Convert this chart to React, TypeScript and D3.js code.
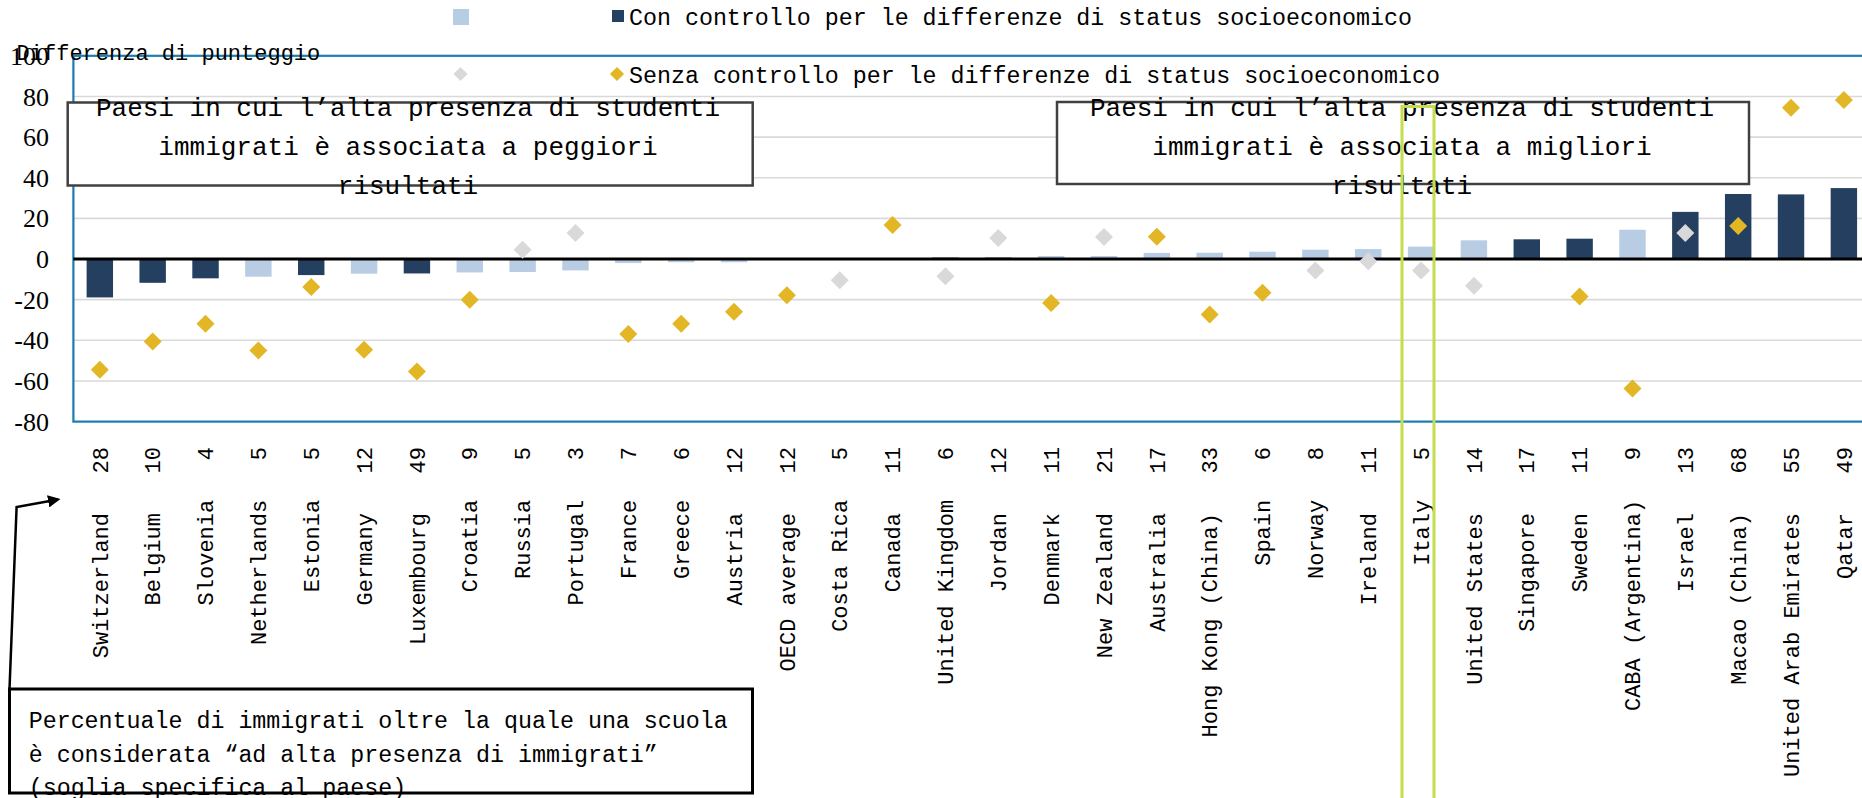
import React from "react";
import * as d3 from "d3";

const countries = [
  "Switzerland", "Belgium", "Slovenia", "Netherlands", "Estonia", "Germany", "Luxembourg",
  "Croatia", "Russia", "Portugal", "France", "Greece", "Austria", "OECD average", "Costa Rica",
  "Canada", "United Kingdom", "Jordan", "Denmark", "New Zealand", "Australia", "Hong Kong (China)",
  "Spain", "Norway", "Ireland", "Italy", "United States", "Singapore", "Sweden", "CABA (Argentina)",
  "Israel", "Macao (China)", "United Arab Emirates", "Qatar",
];
const thresholds = [28, 10, 4, 5, 5, 12, 49, 9, 5, 3, 7, 6, 12, 12, 5, 11, 6, 12, 11, 21, 17, 33, 6, 8, 11, 5, 14, 17, 11, 9, 13, 68, 55, 49];
// Con controllo per le differenze di status socioeconomico (barre)
const withControl = [-18.9, -11.7, -9.5, -8.7, -7.9, -7.2, -7.1, -6.6, -6.4, -5.6, -2.0, -1.6, -1.6, 0, 0, 0, 0.7, 0.7, 1.5, 1.5, 3.0, 3.1, 3.6, 4.6, 4.9, 6.1, 9.2, 9.7, 10.0, 14.4, 23.2, 32.0, 31.8, 34.9];
const withControlSignificant = [1, 1, 1, 0, 1, 0, 1, 0, 0, 0, 0, 0, 0, 0, 0, 0, 1, 1, 0, 0, 0, 0, 0, 0, 0, 0, 0, 1, 1, 0, 1, 1, 1, 1];
// Senza controllo per le differenze di status socioeconomico (rombi)
const withoutControl: (number | null)[] = [-54.5, -40.6, -31.9, -45.0, -13.8, -44.7, -55.3, -20.0, 4.6, 12.8, -36.9, -31.9, -25.9, -17.8, -10.5, 16.8, -8.5, 10.4, -21.7, 10.8, 11.0, -27.3, -16.6, -5.6, -1.1, -5.6, -13.1, null, -18.4, -63.7, 12.8, 16.3, 74.4, 78.2];
const withoutControlSignificant = [1, 1, 1, 1, 1, 1, 1, 1, 0, 0, 1, 1, 1, 1, 0, 1, 0, 0, 1, 0, 1, 1, 1, 0, 0, 0, 0, 0, 1, 1, 0, 1, 1, 1];
const yTicks = [100, 80, 60, 40, 20, 0, -20, -40, -60, -80];

const legendWith = "Con controllo per le differenze di status socioeconomico";
const legendWithout = "Senza controllo per le differenze di status socioeconomico";
const yTitle = "Differenza di punteggio";
const leftBoxLines = ["Paesi in cui l’alta presenza di studenti", "immigrati è associata a peggiori", "risultati"];
const rightBoxLines = ["Paesi in cui l’alta presenza di studenti", "immigrati è associata a migliori", "risultati"];
const noteLines = [
  "Percentuale di immigrati oltre la quale una scuola",
  "è considerata “ad alta presenza di immigrati”",
  "(soglia specifica al paese)",
];

const DARK = "#243f5f";
const LIGHT = "#b8cce4";
const GOLD = "#e2b624";
const GREY = "#d9d9d9";
const MONO = "'Liberation Mono', 'DejaVu Sans Mono', monospace";
const SERIF = "'Liberation Serif', 'DejaVu Serif', serif";

export default function App() {
  const W = 1862;
  const H = 798;
  const left = 73.4;
  const step = 52.85;
  const top = 55.8;
  const bottom = 421.6;

  const x = d3
    .scaleBand<string>()
    .domain(countries)
    .range([left, left + step * countries.length])
    .paddingInner(0.5)
    .paddingOuter(0.25);
  const y = d3.scaleLinear().domain([-80, 100]).range([bottom, top]);
  const diamond = d3.symbol(d3.symbolSquare, 162)() as string;
  const diamondSmall = d3.symbol(d3.symbolSquare, 100)() as string;
  const charW = 22 * 0.6;

  return (
    <svg
      width={W}
      height={H}
      style={{ position: "absolute", left: 0, top: 0, background: "#fff" }}
    >
      <rect x={0} y={0} width={W} height={H} fill="#fff" />
      {/* gridlines */}
      {yTicks
        .filter((t) => t !== 0 && t !== 100 && t !== -80)
        .map((t) => (
          <line key={t} x1={left} x2={W} y1={y(t)} y2={y(t)} stroke={GREY} strokeWidth={1.6} />
        ))}
      {/* plot border */}
      <rect x={left} y={top} width={W - left + 20} height={bottom - top} fill="none" stroke="#1b7db0" strokeWidth={2.2} />

      {/* annotation boxes (behind the marks) */}
      <rect x={67.7} y={102.5} width={685} height={83} fill="#fff" stroke="#404040" strokeWidth={2.5} />
      {leftBoxLines.map((l, k) => (
        <text key={k} x={408} y={107 + k * 39} dy="0.35em" textAnchor="middle" fontFamily={MONO} fontSize={26} fill="#000">
          {l}
        </text>
      ))}
      <rect x={1057} y={102} width={692} height={82} fill="#fff" stroke="#404040" strokeWidth={2.5} />
      {rightBoxLines.map((l, k) => (
        <text key={k} x={1402} y={107 + k * 39} dy="0.35em" textAnchor="middle" fontFamily={MONO} fontSize={26} fill="#000">
          {l}
        </text>
      ))}

      {/* bars */}
      {countries.map((c, i) => {
        const v = withControl[i];
        const y0 = y(0);
        const y1 = y(v);
        return (
          <rect
            key={c}
            x={x(c)}
            width={x.bandwidth()}
            y={Math.min(y0, y1)}
            height={Math.abs(y1 - y0)}
            fill={withControlSignificant[i] ? DARK : LIGHT}
          />
        );
      })}
      {/* zero line */}
      <line x1={left} x2={W} y1={y(0)} y2={y(0)} stroke="#000" strokeWidth={3} />

      {/* diamonds */}
      {countries.map((c, i) => {
        const v = withoutControl[i];
        if (v === null) return null;
        const cx = (x(c) as number) + x.bandwidth() / 2;
        return (
          <path
            key={c}
            d={diamond}
            transform={`translate(${cx},${y(v)}) rotate(45)`}
            fill={withoutControlSignificant[i] ? GOLD : GREY}
          />
        );
      })}

      {/* y tick labels */}
      {yTicks.map((t) => (
        <text
          key={t}
          x={49}
          y={y(t)}
          dy="0.35em"
          textAnchor="end"
          fontFamily={SERIF}
          fontSize={26}
          fill="#000"
        >
          {String(t)}
        </text>
      ))}
      <text x={16.6} y={52} dy="0.35em" fontFamily={MONO} fontSize={22} fill="#000">
        {yTitle}
      </text>

      {/* category labels */}
      {countries.map((c, i) => {
        const cx = (x(c) as number) + x.bandwidth() / 2;
        const num = String(thresholds[i]);
        const yNum = 447;
        const yName = yNum + (num.length + 3) * charW;
        return (
          <g key={c} fontFamily={MONO} fontSize={22} fill="#000">
            <text transform={`translate(${cx},${yNum}) rotate(-90)`} textAnchor="end" dy="0.35em">
              {num}
            </text>
            <text transform={`translate(${cx},${yName}) rotate(-90)`} textAnchor="end" dy="0.35em">
              {c}
            </text>
          </g>
        );
      })}

      {/* legend */}
      <rect x={453} y={9} width={16} height={16} fill={LIGHT} />
      <rect x={612} y={10} width={12} height={12} fill={DARK} />
      <path d={diamondSmall} transform="translate(460.5,74) rotate(45)" fill={GREY} />
      <path d={diamondSmall} transform="translate(617,74) rotate(45)" fill={GOLD} />
      <text x={629} y={17} dy="0.35em" fontFamily={MONO} fontSize={23.3} fill="#000">
        {legendWith}
      </text>
      <text x={629} y={75} dy="0.35em" fontFamily={MONO} fontSize={23.3} fill="#000">
        {legendWithout}
      </text>

      {/* Italy highlight */}
      <rect x={1402} y={106.5} width={32} height={720} fill="none" stroke="#c4dd4f" strokeWidth={3} />

      {/* note box with arrow */}
      <defs>
        <marker id="arrowHead" viewBox="0 0 10 10" refX={8} refY={5} markerWidth={5} markerHeight={5} orient="auto">
          <path d="M0,0 L10,5 L0,10 z" fill="#000" />
        </marker>
      </defs>
      <polyline
        points="9.5,689 16.6,507 58,499.5"
        fill="none"
        stroke="#000"
        strokeWidth={2.5}
        markerEnd="url(#arrowHead)"
      />
      <rect x={9.5} y={689} width={743} height={104} fill="#fff" stroke="#000" strokeWidth={3} />
      {noteLines.map((l, k) => (
        <text key={k} x={28.7} y={720 + k * 33.5} dy="0.35em" fontFamily={MONO} fontSize={23.3} fill="#000">
          {l}
        </text>
      ))}
    </svg>
  );
}
